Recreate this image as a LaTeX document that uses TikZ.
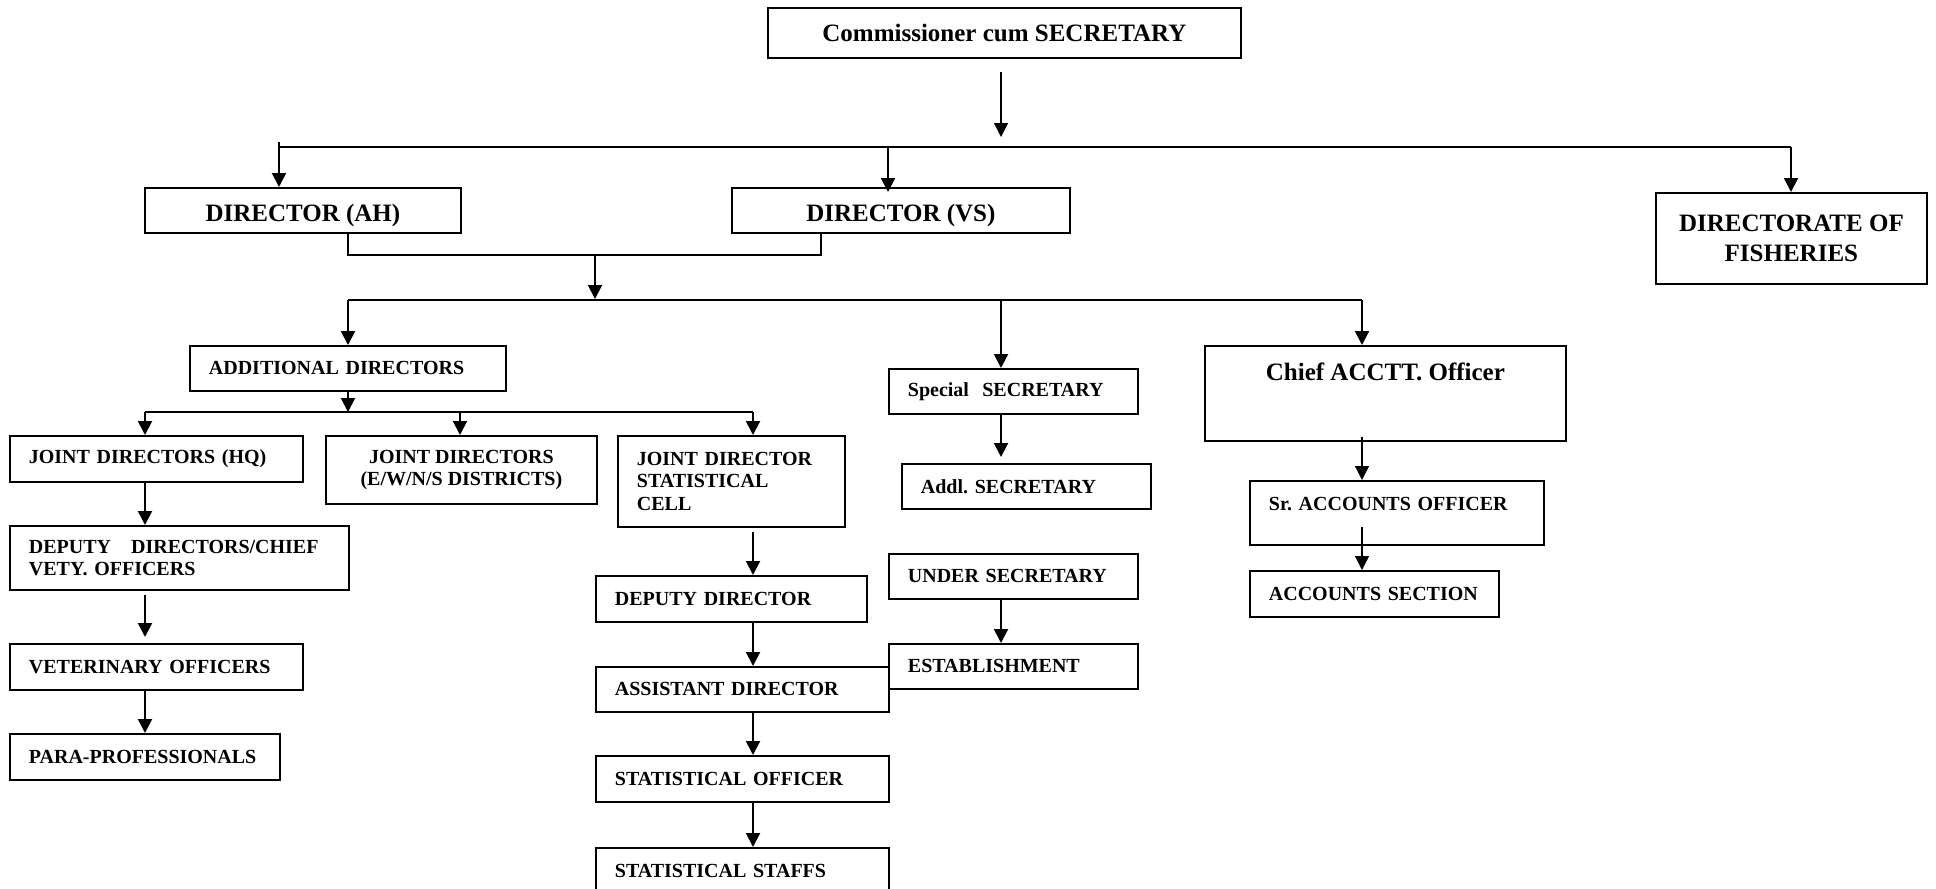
\documentclass[tikz,border=0pt]{standalone}
\usepackage{fontspec}
\setmainfont{Liberation Serif}
\usetikzlibrary{arrows.meta}
\frenchspacing

\begin{document}
\begin{tikzpicture}[
	x=1pt, y=-1pt,
	bstyle/.style={draw, line width=1.8pt, anchor=north west, align=center,
	inner sep=0pt, font=\fontsize{25}{30}\selectfont\bfseries},
	lstyle/.style={draw, line width=1.8pt, anchor=north west, align=left,
	inner xsep=19pt, inner ysep=0pt, font=\fontsize{20}{22.5}\selectfont\bfseries},
	cstyle/.style={lstyle, align=center, inner xsep=0pt},
	link/.style={line width=2pt},
	arr/.style={link, -{Triangle[length=14pt,width=14pt]}},
	thinarr/.style={arr, line width=1.3pt}
	]
	\useasboundingbox (0,0) rectangle (1936,889);
	\clip (0,0) rectangle (1936,889);

	% boxes
	\draw(767,7)node[bstyle, minimum width=473pt, minimum height=50pt] (comm) {Commissioner cum SECRETARY};
	\draw(144,187)node[bstyle, minimum width=316pt, text height=34pt, text depth=11pt] (dirah) {DIRECTOR (AH)};
	\draw(731,187)node[bstyle, minimum width=338pt, text height=34pt, text depth=11pt] (dirvs) {DIRECTOR (VS)};
	\draw(1655,192)node[bstyle, minimum width=271pt, minimum height=91pt] (fish) {DIRECTORATE OF\\FISHERIES};
	\draw(189,345)node[lstyle, text width=278pt, minimum height=45pt] (adddir) {ADDITIONAL DIRECTORS};
	\draw(888,368)node[lstyle, text width=211pt, minimum height=45pt] (specsec) {Special\ \ SECRETARY};
	\draw(1204,345)node[bstyle, minimum width=361pt, text height=35pt, text depth=60pt] (chief) {Chief ACCTT. Officer};
	\draw(9,435)node[lstyle, text width=255pt, minimum height=46pt] (jdhq) {JOINT DIRECTORS (HQ)};
	\draw(325,435)node[cstyle, minimum width=271pt, minimum height=68pt] (jdzone) {JOINT DIRECTORS\\(E/W/N/S DISTRICTS)};
	\draw(617,435)node[lstyle, text width=189pt, minimum height=91pt] (jdstat) {JOINT DIRECTOR\\STATISTICAL\\CELL};
	\draw(901,463)node[lstyle, text width=211pt, minimum height=45pt] (addlsec) {Addl. SECRETARY};
	\draw(1249,480)node[lstyle, text width=256pt, text height=29.5pt, text depth=34.5pt] (srao) {Sr. ACCOUNTS OFFICER};
	\draw(9,525)node[lstyle, text width=301pt, minimum height=64pt] (depdirs) {DEPUTY~~~DIRECTORS/CHIEF\\VETY. OFFICERS};
	\draw(888,553)node[lstyle, text width=211pt, minimum height=45pt] (undersec) {UNDER SECRETARY};
	\draw(1249,570)node[lstyle, text width=211pt, minimum height=46pt] (acsec) {\mbox{ACCOUNTS SECTION}};
	\draw(595,575)node[lstyle, text width=233pt, minimum height=46pt] (depdir) {DEPUTY DIRECTOR};
	\draw(9,643)node[lstyle, text width=255pt, minimum height=46pt] (vetoff) {VETERINARY OFFICERS};
	\draw(888,643)node[lstyle, text width=211pt, minimum height=45pt] (estab) {ESTABLISHMENT};
	\draw(595,666)node[lstyle, text width=255pt, minimum height=45pt] (asstdir) {ASSISTANT DIRECTOR};
	\draw(9,733)node[lstyle, text width=232pt, minimum height=46pt] (paraprof) {\mbox{PARA-PROFESSIONALS}};
	\draw(595,755)node[lstyle, text width=255pt, minimum height=46pt] (statoff) {STATISTICAL OFFICER};
	\draw(595,847)node[lstyle, text width=255pt, minimum height=46pt] (statstaff) {STATISTICAL STAFFS};

	% bus points
	\coordinate (topbus) at (1001,147);
	\coordinate (tick) at (279,142);
	\coordinate (vsdrop) at (888,147);
	\coordinate (fishdrop) at (1791,147);
	\coordinate (mergeL) at (348,255);
	\coordinate (mergeR) at (821,255);
	\coordinate (mergemid) at (595,255);
	\coordinate (midbus) at (595,300);
	\coordinate (adddrop) at (348,300);
	\coordinate (secdrop) at (1001,300);
	\coordinate (accdrop) at (1362,300);
	\coordinate (lowbus) at (348,412);
	\coordinate (hqdrop) at (145,412);
	\coordinate (zonedrop) at (460,412);
	\coordinate (statdrop) at (753,412);

	% top level
	\draw[thinarr] ([yshift=-13pt]comm.south -| topbus) -- ([yshift=10pt]topbus);
	\draw[link] (tick |- topbus) -- (fishdrop);
	\draw[arr] (tick) -- (tick |- dirah.north);
	\draw[arr] (vsdrop) -- ([yshift=-5pt]vsdrop |- dirvs.north);
	\draw[arr] (fishdrop) -- (fishdrop |- fish.north);

	% the two directors
	\draw[link] (mergeL |- dirah.south) -- (mergeL) -- (mergeR) -- (mergeR |- dirvs.south);
	\draw[arr] (mergemid) -- ([yshift=1pt]midbus);
	\draw[link] (adddrop) -- (accdrop);
	\draw[arr] (adddrop) -- (adddrop |- adddir.north);
	\draw[arr] (secdrop) -- (secdrop |- specsec.north);
	\draw[arr] (accdrop) -- (accdrop |- chief.north);

	% joint directors
	\draw[arr] (adddrop |- adddir.south) -- (lowbus);
	\draw[link] (hqdrop) -- (statdrop);
	\draw[arr] (hqdrop) -- (hqdrop |- jdhq.north);
	\draw[arr] (zonedrop) -- (zonedrop |- jdzone.north);
	\draw[arr] (statdrop) -- (statdrop |- jdstat.north);

	% field chain
	\draw[arr] (jdhq.south -| hqdrop) -- (depdirs.north -| hqdrop);
	\draw[arr] ([yshift=-4pt]depdirs.south -| hqdrop) -- ([yshift=6pt]vetoff.north -| hqdrop);
	\draw[arr] (vetoff.south -| hqdrop) -- (paraprof.north -| hqdrop);

	% statistical chain
	\draw[arr] ([yshift=-4pt]jdstat.south -| statdrop) -- (depdir.north -| statdrop);
	\draw[arr] (depdir.south -| statdrop) -- (asstdir.north -| statdrop);
	\draw[arr] (asstdir.south -| statdrop) -- (statoff.north -| statdrop);
	\draw[arr] (statoff.south -| statdrop) -- (statstaff.north -| statdrop);

	% secretariat
	\draw[arr] (specsec.south -| secdrop) -- ([yshift=6pt]addlsec.north -| secdrop);
	\draw[arr] (undersec.south -| secdrop) -- (estab.north -| secdrop);

	% accounts
	\draw[thinarr] ([yshift=5pt]chief.south -| accdrop) -- (srao.north -| accdrop);
	\draw[thinarr] ([yshift=19pt]srao.south -| accdrop) -- (acsec.north -| accdrop);
\end{tikzpicture}
\end{document}
